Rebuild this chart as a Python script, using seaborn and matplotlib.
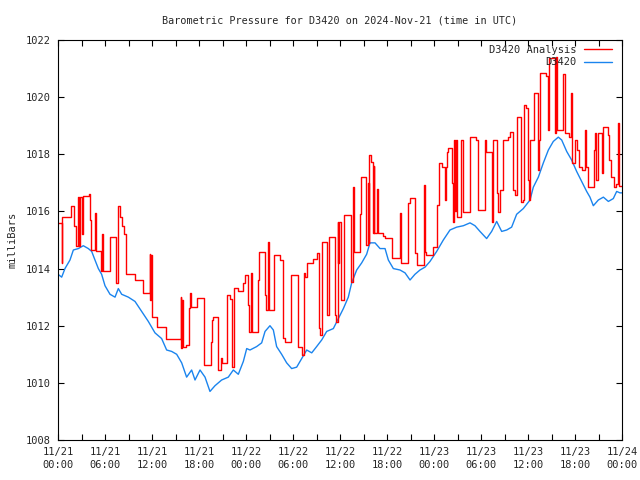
import matplotlib
matplotlib.use("Agg")
import matplotlib.pyplot as plt
import seaborn as sns
import pandas as pd
import numpy as np
from matplotlib.lines import Line2D

# ---------------- data ----------------
title = "Barometric Pressure for D3420 on 2024-Nov-21 (time in UTC)"
y_label = "milliBars"
series_names = ["D3420 Analysis", "D3420"]

x_tick_hours = [0, 6, 12, 18, 24, 30, 36, 42, 48, 54, 60, 66, 72]
x_tick_labels = ["11/21\n00:00", "11/21\n06:00", "11/21\n12:00", "11/21\n18:00",
                 "11/22\n00:00", "11/22\n06:00", "11/22\n12:00", "11/22\n18:00",
                 "11/23\n00:00", "11/23\n06:00", "11/23\n12:00", "11/23\n18:00",
                 "11/24\n00:00"]
y_ticks = [1008, 1010, 1012, 1014, 1016, 1018, 1020, 1022]

# analysis (hours since 11/21 00:00, value held until next time)
red_t = [0.0, 0.45, 0.55, 1.6, 2.1, 2.3, 2.5, 2.65, 2.8, 3.0, 3.15, 3.9, 4.05, 4.25, 4.7, 4.8,
         5.55, 5.65, 5.75, 6.6, 7.45, 7.6, 7.9, 8.15, 8.4, 8.7, 9.8, 10.8, 11.7, 11.8, 11.9, 12.0,
         12.65, 13.8, 15.66, 15.75, 15.85, 16.0, 16.3, 16.75, 16.9, 17.0, 17.75, 18.6, 19.5, 19.6,
         19.75, 20.45, 20.75, 20.9, 21.6, 21.9, 22.2, 22.45, 23.0, 23.6, 23.85,
         24.3, 24.43, 24.6, 24.75, 25.55, 25.7, 26.45, 26.6, 26.75, 26.9, 27.6, 28.3, 28.75, 28.95,
         29.7, 29.8, 30.65, 31.2, 31.45, 31.55, 31.75, 32.6, 33.0, 33.3, 33.45, 33.65, 34.3, 34.6,
         35.3, 35.45, 35.7,
         35.75, 35.85, 36.17, 36.5, 37.35, 37.45, 37.6, 37.75, 38.6, 38.7, 39.35, 39.55, 39.65,
         39.7, 40.0, 40.2, 40.3, 40.4, 40.75, 40.85, 41.5, 41.7, 42.6, 43.6, 43.75, 44.65, 44.9,
         45.6, 45.8, 46.7, 46.85, 47.0, 47.85,
         48.4, 48.65, 49.0, 49.4, 49.5, 49.6, 49.8, 50.35, 50.45, 50.55, 50.7, 50.8, 50.9, 51.5,
         51.65, 51.75, 52.6, 53.4, 53.65, 54.5, 54.65, 55.35, 55.55, 56.0, 56.2, 56.45, 56.75,
         57.5, 57.7, 58.1, 58.3, 58.6, 59.15, 59.3, 59.45, 59.8,
         60.0, 60.1, 60.3, 60.73, 61.3, 61.4, 61.58, 62.3, 62.56, 62.73, 63.49, 63.58, 63.71,
         64.47, 64.69, 65.2, 65.54, 65.62, 66.05, 66.2, 66.47, 66.9, 67.32, 67.45, 67.66, 68.38,
         68.55, 68.68, 68.94, 69.4, 69.5, 69.58, 70.22, 70.39, 70.6, 70.94, 71.24, 71.55, 71.65, 72.0]
red_v = [1015.6, 1014.2, 1015.8, 1016.2, 1015.5, 1014.8, 1016.5, 1014.8, 1016.5, 1015.2, 1016.55,
         1016.6, 1015.7, 1014.65, 1015.95, 1014.6, 1013.9, 1015.2, 1013.9, 1015.1, 1013.5, 1016.2,
         1015.8, 1015.5, 1015.2, 1013.8, 1013.6, 1013.13, 1014.5, 1012.9, 1014.47, 1012.32,
         1011.97, 1011.52, 1013.02, 1011.21, 1012.9, 1011.27, 1011.33, 1012.61, 1013.13, 1012.67,
         1012.98, 1010.63, 1011.44, 1012.2, 1012.32, 1010.45, 1010.86, 1010.68, 1013.08, 1012.95,
         1010.57, 1013.31, 1013.2, 1013.5, 1013.77,
         1012.72, 1011.79, 1013.83, 1011.79, 1013.6, 1014.57, 1013.08, 1012.55, 1014.94, 1012.55,
         1014.47, 1014.3, 1011.56, 1011.44, 1012.49, 1013.77, 1011.27, 1010.98, 1013.83, 1013.72,
         1014.18, 1014.35, 1014.53, 1011.91, 1011.67, 1014.94, 1012.37, 1015.12, 1012.37, 1012.14,
         1015.64,
         1014.2, 1015.64, 1012.9, 1015.88, 1015.64, 1013.54, 1016.87, 1014.59, 1015.9, 1017.22,
         1014.83, 1017.0, 1014.9, 1017.98, 1017.74, 1015.23, 1017.6, 1015.23, 1016.8, 1015.23,
         1015.15, 1015.06, 1014.36, 1015.93, 1014.18, 1016.28, 1016.46, 1014.53, 1014.12, 1016.93,
         1014.59, 1014.47, 1014.77,
         1016.23, 1017.68, 1017.57, 1016.4, 1017.57, 1018.09, 1018.21, 1016.98, 1015.64, 1018.5,
         1016.0, 1018.5, 1015.82, 1018.5, 1017.16, 1015.98, 1018.62, 1018.5, 1016.05, 1018.5,
         1018.09, 1015.64, 1018.5, 1016.63, 1015.99, 1016.75, 1018.5, 1018.62, 1018.79, 1016.75,
         1016.57, 1019.32, 1016.34, 1016.4, 1019.72, 1019.61,
         1017.1, 1016.4, 1018.5, 1020.13, 1017.45, 1018.5, 1020.83, 1020.75, 1018.85, 1021.36,
         1018.73, 1021.4, 1018.85, 1020.8, 1018.73, 1018.6, 1020.13, 1017.68, 1018.5, 1018.15,
         1017.57, 1017.45, 1018.85, 1017.57, 1016.87, 1018.15, 1018.73, 1017.1, 1018.73, 1018.25,
         1017.33, 1018.97, 1018.67, 1017.8, 1017.21, 1016.87, 1016.95, 1019.1, 1016.9, 1016.9]

# observations
blue_t = [0.0, 0.47, 0.89, 1.53, 1.96, 2.6, 3.23, 3.87, 4.3, 4.72,
          5.15, 5.57, 6.0, 6.64, 7.28, 7.7, 8.13, 8.98, 9.83, 10.68,
          11.53, 12.38, 13.23, 13.87, 14.51, 15.15, 15.79, 16.42, 17.06, 17.49,
          18.13, 18.77, 19.4, 20.04, 20.89, 21.74, 22.38, 23.02, 23.66, 24.09,
          24.51, 25.36, 26.0, 26.43, 27.06, 27.49, 27.91, 28.55, 29.19, 29.83,
          30.47, 31.11, 31.75, 32.39, 33.02, 33.66, 34.3, 35.15, 35.79, 36.43,
          37.06, 37.49, 38.13, 38.77, 39.4, 39.83, 40.47, 41.11, 41.75, 42.17,
          42.81, 43.66, 44.3, 44.94, 45.57, 46.21, 46.85, 47.49, 48.34, 49.19,
          50.04, 50.89, 51.75, 52.6, 53.23, 53.87, 54.72, 55.36, 56.0, 56.64,
          57.28, 57.91, 58.55, 59.4, 60.26, 60.68, 61.32, 61.96, 62.6, 63.23,
          63.87, 64.3, 64.94, 65.57, 66.21, 66.85, 67.49, 67.91, 68.34, 68.98,
          69.62, 70.26, 70.89, 71.32, 71.74, 72.0]
blue_v = [1013.8, 1013.7, 1014.0, 1014.3, 1014.65, 1014.7, 1014.8, 1014.7, 1014.6, 1014.3,
          1014.0, 1013.8, 1013.4, 1013.1, 1013.0, 1013.3, 1013.1, 1013.0, 1012.85, 1012.5,
          1012.15, 1011.75, 1011.55, 1011.15, 1011.1, 1011.0, 1010.7, 1010.2, 1010.45, 1010.1,
          1010.45, 1010.2, 1009.7, 1009.9, 1010.1, 1010.2, 1010.45, 1010.3, 1010.75, 1011.2,
          1011.15, 1011.27, 1011.4, 1011.8, 1012.0, 1011.85, 1011.27, 1011.0, 1010.7, 1010.5,
          1010.55, 1010.85, 1011.15, 1011.05, 1011.27, 1011.5, 1011.8, 1011.9, 1012.25, 1012.6,
          1013.0, 1013.5, 1013.95, 1014.2, 1014.5, 1014.9, 1014.9, 1014.7, 1014.7, 1014.3,
          1014.0, 1013.95, 1013.85, 1013.6, 1013.8, 1013.95, 1014.05, 1014.25, 1014.6, 1015.0,
          1015.35, 1015.45, 1015.5, 1015.6, 1015.5, 1015.3, 1015.05, 1015.3, 1015.65, 1015.3,
          1015.35, 1015.45, 1015.9, 1016.1, 1016.4, 1016.85, 1017.2, 1017.7, 1018.15, 1018.45,
          1018.6, 1018.5, 1018.1, 1017.8, 1017.4, 1017.05, 1016.7, 1016.5, 1016.2, 1016.4,
          1016.5, 1016.35, 1016.45, 1016.7, 1016.65, 1016.65]

# ---------------- style ----------------
sns.set_theme(style="white")
plt.rcParams["font.family"] = ["DejaVu Sans Mono"]
FS = 7.5
RED = "#ff0000"
BLUE = "#1a84ee"

fig = plt.figure(figsize=(6.4, 4.8), dpi=100)
ax = fig.add_axes([58 / 640, 1 - 440 / 480, 564 / 640, 400 / 480])

df_red = pd.DataFrame({"hours": red_t, "mb": red_v})
df_blue = pd.DataFrame({"hours": blue_t, "mb": blue_v})

sns.lineplot(data=df_blue, x="hours", y="mb", ax=ax, color=BLUE, lw=1.0,
             estimator=None, sort=False, legend=False)
sns.lineplot(data=df_red, x="hours", y="mb", ax=ax, color=RED, lw=1.0,
             estimator=None, sort=False, legend=False, drawstyle="steps-post")

ax.set_xlim(0, 72)
ax.set_ylim(1008, 1022)
ax.set_xticks(x_tick_hours)
ax.set_xticklabels(x_tick_labels, fontsize=FS, linespacing=1.35)
ax.set_xticks(np.arange(3, 72, 6), minor=True)
ax.set_yticks(y_ticks)
ax.set_yticklabels([str(v) for v in y_ticks], fontsize=FS)

ax.tick_params(axis="both", which="both", direction="in", top=True, right=True,
               bottom=True, left=True, color="black", width=0.8, length=4.5)
ax.tick_params(axis="x", which="major", pad=5)
ax.tick_params(axis="y", which="major", pad=5)

for s in ax.spines.values():
    s.set_color("black")
    s.set_linewidth(0.8)
ax.grid(False)

ax.set_xlabel("")
ax.set_ylabel(y_label, fontsize=FS)
ax.yaxis.set_label_coords(-0.072, 0.5)
ax.set_title(title, fontsize=7.3, pad=12)

handles = [Line2D([], [], color=RED, lw=1.0), Line2D([], [], color=BLUE, lw=1.0)]
ax.legend(handles, series_names, loc="upper right", bbox_to_anchor=(1.0, 1.012),
          frameon=False, markerfirst=False, fontsize=FS, handlelength=2.7,
          handletextpad=0.7, labelspacing=0.2, borderaxespad=0.7, borderpad=0.25)

fig.savefig("out.png", dpi=100)
